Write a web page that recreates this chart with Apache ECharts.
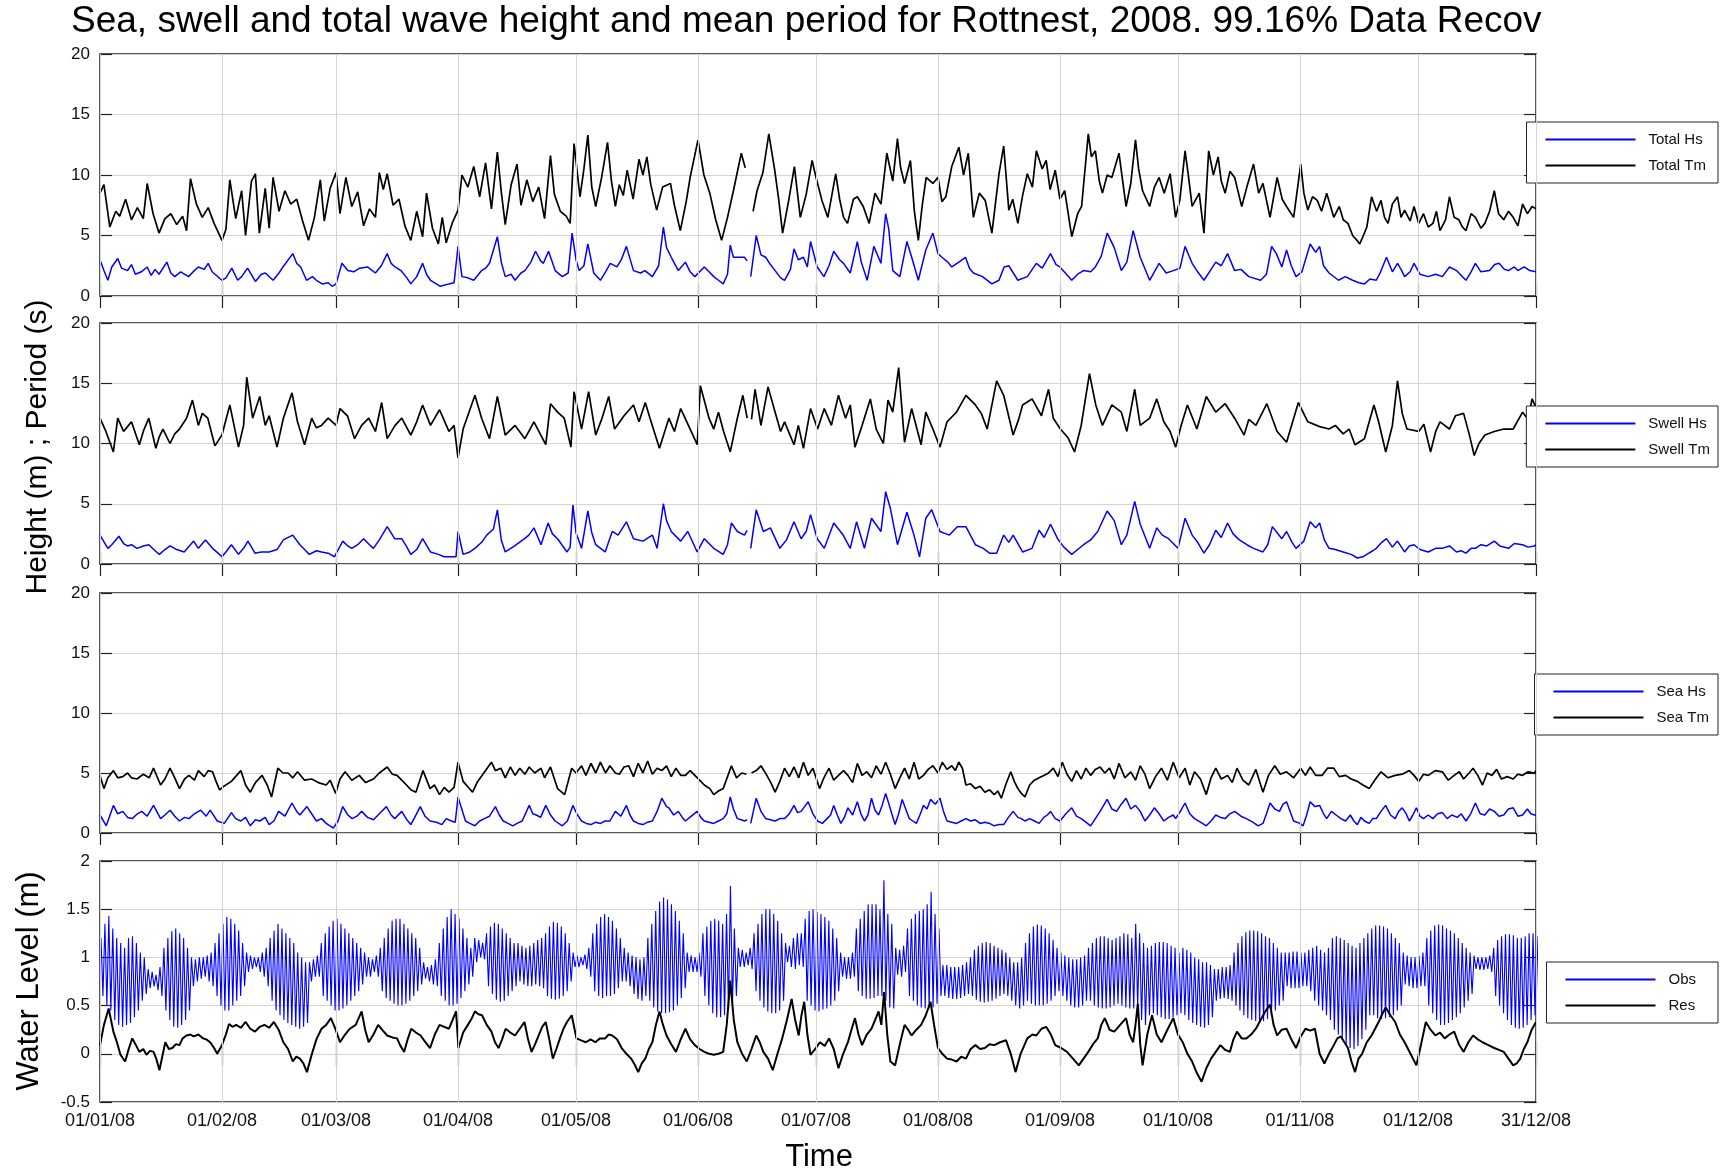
<!DOCTYPE html>
<html>
<head>
<meta charset="utf-8">
<script src="https://cdn.jsdelivr.net/npm/echarts@6/dist/echarts.min.js"></script>
<style>
  html, body { margin: 0; padding: 0; background: #fff; }
  #myChart { width: 1724px; height: 1172px; }
</style>
</head>
<body>
<div id="myChart"></div>
<script>
// tick positions on the time axis and their labels
const tickDates = ['2008-01-01', '2008-02-01', '2008-03-01', '2008-04-01', '2008-05-01', '2008-06-01',
  '2008-07-01', '2008-08-01', '2008-09-01', '2008-10-01', '2008-11-01', '2008-12-01', '2008-12-31']
const tickLabels = ['01/01/08', '01/02/08', '01/03/08', '01/04/08', '01/05/08', '01/06/08',
  '01/07/08', '01/08/08', '01/09/08', '01/10/08', '01/11/08', '01/12/08', '31/12/08']

// [day of year, value]
const totalHs = [[0,3.0],[1,2.1],[2,1.3],[3,2.4],[4.5,3.1],[5.5,2.3],[7,2.1],[8,2.6],[9,1.8],[10.5,2.0],[12,2.4],[13,1.7],[14,2.2],[15,1.8],[17,2.8],[18,1.9],[19,1.6],[20.5,2.0],[22.5,1.6],[24,2.1],[25,2.4],[26.5,2.2],[27.5,2.7],[28.5,2.0],[29,1.9],[31,1.3],[32,1.5],[33.5,2.3],[35,1.3],[36,1.6],[37.5,2.3],[39.5,1.2],[41,1.8],[42,1.9],[44,1.3],[45.5,1.9],[46.5,2.4],[49,3.5],[50,2.7],[51,2.4],[52.5,1.3],[54,1.6],[55,1.3],[56.5,1.0],[58,1.1],[59,0.8],[60,1.0],[61.5,2.7],[63,2.1],[64.5,2.0],[66,2.3],[68,2.4],[70,1.9],[71.5,2.5],[73,3.5],[74,2.7],[75,2.4],[76.5,2.1],[78,1.5],[79,1.0],[80.5,1.6],[82,2.7],[83,1.8],[84,1.3],[85.5,1.0],[86.5,0.8],[88.7,1.0],[90,1.1],[91,4.1],[92,1.6],[93.5,1.5],[95,1.3],[97,2.1],[98,2.3],[99,2.7],[101,4.9],[102,2.8],[103,1.6],[104.5,1.8],[105.5,1.3],[107,1.9],[108,2.1],[109.5,2.8],[110.7,3.7],[112,2.9],[112.7,2.7],[114,3.7],[115.7,2.1],[117.5,1.6],[119,1.9],[120,5.2],[121,3.0],[121.8,2.1],[123,2.5],[124,4.3],[125.5,1.9],[127.2,1.3],[128.5,2.0],[129.7,2.7],[131.4,2.4],[132.5,3.0],[133.8,4.1],[135.6,2.1],[137.4,1.9],[138.5,2.1],[140.4,1.6],[142,2.5],[143.2,5.7],[144,4.0],[145.2,3.2],[147,2.1],[148.8,2.8],[150,2.0],[151.2,1.6],[153.6,2.4],[154.8,2.0],[156,1.6],[157.2,1.3],[158.4,1.0],[159.5,1.8],[160.2,4.2],[161,3.2],[162,3.2],[163.8,3.2],[164.5,2.9],[165,null],[165.4,1.6],[166.8,5.0],[168,3.4],[169.2,3.2],[170.4,2.6],[171.6,2.1],[173,1.5],[174,1.3],[175.5,2.2],[176.4,3.9],[177.5,3.0],[178.8,3.2],[179.8,2.4],[180.6,4.5],[182.3,2.4],[184,1.6],[185.3,2.5],[186.5,3.7],[188,3.0],[189,2.7],[190.7,1.9],[192.5,4.5],[193.5,2.8],[195,1.3],[196.7,4.1],[198.5,2.7],[199.7,6.8],[200.5,5.5],[201.5,2.1],[203.3,1.6],[205.1,4.5],[206.5,3.0],[208,1.3],[209.9,3.8],[211.7,5.2],[213,3.5],[214,3.2],[215.5,2.8],[216.5,2.4],[218.3,2.8],[220,3.2],[221,2.3],[222,1.9],[224.3,1.6],[226.7,1.0],[228.5,1.3],[229.8,2.4],[231,2.5],[233.3,1.3],[235.7,1.6],[238,2.7],[239.5,2.3],[241.6,3.5],[243,2.6],[244,2.4],[247,1.3],[248.5,1.8],[250,2.1],[251.8,2.0],[253,2.4],[254.5,3.3],[256,5.2],[257.8,4.0],[259.6,2.1],[261,2.8],[262.6,5.4],[263.5,4.3],[264.4,3.2],[266.8,1.3],[268,2.0],[269.2,2.7],[271,1.9],[272.8,2.1],[274.5,2.3],[275.8,4.1],[277.6,2.7],[279,2.0],[280.6,1.3],[282,2.0],[283.6,2.8],[285,2.5],[286.6,3.5],[288.4,2.1],[290,2.2],[292,1.6],[295,1.3],[296.5,1.8],[297.8,4.1],[299,3.5],[300.4,2.4],[301.6,3.8],[302.8,2.5],[304,1.6],[305.5,2.0],[307.6,4.3],[309,3.6],[310,4.1],[311,2.5],[312.4,1.9],[314.8,1.3],[316.5,1.6],[318.4,1.3],[320,1.1],[321.4,1.0],[322.8,1.4],[324.4,1.3],[325.5,2.0],[327,3.2],[328.5,2.0],[329.8,2.7],[330.7,2.2],[331.6,1.6],[333,2.0],[334,2.7],[335.5,1.8],[337.6,1.6],[339.5,1.8],[341.2,1.6],[343,2.4],[344.8,2.1],[346,1.7],[347.2,1.3],[348.5,2.0],[349.6,2.7],[351,2.0],[353.2,2.1],[354.5,2.6],[355.6,2.7],[357,2.2],[358,2.1],[359.5,2.4],[360.4,2.1],[362,2.4],[363.4,2.1],[365,2.0]]

const totalTm = [[0,8.5],[1,9.2],[2.5,5.7],[4,7.0],[5,6.6],[6.5,8.0],[8,6.3],[9.5,7.3],[11,6.4],[12,9.3],[13.5,6.8],[15,5.2],[16.5,6.4],[18,6.8],[19.5,5.9],[21,6.6],[22,5.4],[23,9.7],[24.5,7.6],[26,6.5],[27.5,7.3],[29,6.0],[31,4.6],[32,5.5],[33,9.6],[34.5,6.4],[36,8.7],[37,5.0],[38.5,9.5],[39.5,10.1],[40.5,5.2],[42,8.9],[43,5.6],[44,9.8],[45.5,7.0],[47,8.7],[48.5,7.6],[50,8.0],[51.5,6.2],[53,4.6],[54.5,6.5],[56,9.6],[57,6.2],[58.5,8.9],[60,10.2],[61,6.8],[62.5,9.8],[64,7.4],[65.5,8.6],[67,5.8],[68.5,7.2],[70,6.5],[71,10.2],[72,8.8],[73,10.1],[74.5,7.5],[76,8.0],[77.5,5.8],[79,4.6],[80.5,7.0],[82,4.9],[83,8.5],[84.5,5.6],[86,4.3],[87,6.5],[88,4.4],[89.5,6.0],[91,7.1],[92,10.0],[93.5,9.0],[95,10.7],[96.5,8.2],[98,11.0],[99.5,7.2],[101,11.9],[102,8.6],[103,5.9],[104.5,9.2],[106,10.9],[107,7.5],[108.5,9.6],[110,7.8],[111.5,9.0],[113,6.4],[114.5,11.6],[115.5,8.4],[117,7.0],[118.5,6.6],[119.5,6.0],[120.5,12.6],[122,8.2],[123,10.5],[124,13.3],[125,9.0],[126,7.4],[127.5,9.8],[129,12.7],[130,9.5],[131,7.4],[132,9.2],[133,8.3],[134,10.4],[135.5,8.0],[137,11.3],[138,10.0],[139,11.5],[140,9.2],[141.5,7.1],[143,9.0],[145,9.3],[146,7.5],[147.5,5.4],[149,7.8],[150,9.8],[152,12.9],[153.5,10.0],[155,8.5],[156.5,6.3],[158,4.6],[159.5,6.5],[161,8.7],[163,11.8],[164,10.6],[165,null],[166,7.0],[167,8.7],[168.5,10.2],[170,13.4],[171.5,10.4],[172.5,8.0],[173.5,5.2],[175,7.8],[176.5,10.7],[178,6.5],[179.5,8.4],[181,11.2],[182,9.8],[183.5,7.9],[185,6.5],[187,10.1],[188,8.0],[189,6.5],[190,6.0],[191.5,8.0],[192.5,8.2],[194,7.4],[195.5,6.0],[197,8.5],[198.5,7.6],[200,11.8],[201.5,9.5],[202.7,13.0],[203.5,10.6],[204.5,9.3],[206,11.2],[207,7.0],[208,4.6],[209,7.5],[210,9.8],[211.7,9.3],[213,9.8],[214,7.8],[215,8.2],[216.5,10.7],[218.3,12.3],[219.5,10.0],[220.7,11.8],[222,6.5],[223.5,8.5],[225,7.9],[226.7,5.2],[228.5,10.1],[229.7,12.4],[231,7.1],[232,8.0],[233.3,6.0],[234.5,8.3],[235.7,10.1],[237,9.0],[238,12.0],[239.5,10.5],[240.5,11.2],[241.5,8.8],[242.8,10.4],[244,8.0],[245.2,8.7],[247,4.9],[248.5,6.8],[249.5,7.4],[251.2,13.4],[252,11.5],[253,12.0],[254,9.5],[254.8,8.5],[256,10.0],[257.2,9.8],[259,11.8],[260.8,7.4],[262,9.3],[263.2,12.9],[264,10.5],[265,8.7],[266.8,7.4],[268,9.0],[269.2,9.8],[270.5,8.5],[272,10.1],[273.4,6.5],[274.5,8.0],[275.8,12.0],[276.7,9.8],[277.6,7.4],[279.4,8.5],[280.6,5.2],[281.8,12.0],[283,10.0],[284.2,11.5],[285,9.5],[286,8.5],[287.2,10.3],[288.4,9.8],[290.2,7.4],[291.5,9.0],[293.2,10.9],[294.5,8.5],[295.6,9.3],[297.4,6.5],[299.2,9.8],[300.5,8.0],[301.6,7.4],[303.4,6.5],[305.2,10.9],[306,8.5],[307,7.1],[308.2,8.2],[309.4,7.9],[310.5,7.0],[311.8,8.5],[313.6,6.5],[315,7.4],[316,6.3],[317.2,6.0],[318.4,5.0],[319.5,4.6],[320.2,4.3],[321,4.9],[322,5.7],[323.2,8.2],[324.5,7.0],[325.6,7.9],[326.5,6.5],[327.4,6.0],[328.5,7.6],[329.8,8.2],[330.7,6.5],[331.6,7.1],[333,6.2],[334,7.4],[335.2,6.0],[336.4,6.8],[337.6,5.7],[338.8,6.0],[339.7,7.0],[340.6,5.4],[342,6.3],[343,8.2],[344.2,6.5],[345.4,6.3],[346.3,5.7],[347.2,5.4],[348.5,6.8],[349.6,6.5],[351,5.6],[352,6.0],[353.2,7.0],[354.4,8.7],[355.5,6.8],[356.8,6.3],[358,7.0],[359.2,6.5],[360.4,5.8],[361.6,7.6],[362.8,6.8],[364,7.4],[365,7.2]]

const swellHs = [[0,2.4],[2,1.3],[3,1.6],[4.8,2.3],[6,1.7],[7,1.5],[8,1.6],[9.4,1.3],[11,1.5],[12.4,1.6],[14,1.1],[15.1,0.8],[16.5,1.2],[17.8,1.5],[19.5,1.2],[21.4,1.0],[23.8,1.9],[25,1.3],[26.8,2.0],[28.6,1.3],[30,0.9],[31,0.6],[32,1.0],[33.4,1.6],[35.2,0.8],[36.5,1.3],[37.6,1.9],[39.4,0.9],[41,1.0],[43,1.0],[45,1.2],[46.6,2.0],[49,2.4],[50.8,1.6],[52,1.2],[53.2,0.8],[55,1.1],[56.3,1.0],[58,0.9],[59.6,0.6],[61.7,1.9],[63,1.5],[64,1.3],[65.5,1.6],[67,2.1],[68.5,1.6],[69.5,1.3],[71,2.0],[73,3.1],[74.9,2.1],[76.7,2.1],[78,1.4],[79,0.8],[80.5,1.2],[82,2.1],[84,1.0],[86,0.8],[87.5,0.6],[89,0.6],[90.5,0.6],[91,2.7],[92.3,0.8],[94,1.0],[95.3,1.3],[97,1.8],[98.3,2.4],[100,2.9],[101,4.5],[102,2.0],[103,1.0],[105.4,1.5],[107.9,2.1],[109,2.4],[110.3,3.0],[112.1,1.6],[113.9,3.4],[115,2.5],[116.3,2.1],[118.7,1.0],[119.5,1.4],[120.2,4.9],[121,2.6],[122.4,1.3],[124,4.4],[125,2.6],[126,1.6],[128.4,1.0],[130.2,2.7],[131.7,2.4],[133.8,3.5],[135.6,2.1],[138,1.9],[140.4,2.4],[141.6,1.3],[143.2,5.0],[144,3.6],[145.2,2.7],[147.6,1.9],[149.4,2.7],[151.8,1.0],[153.6,2.1],[156,1.3],[158.4,0.8],[159.5,1.6],[160.5,3.4],[162,2.7],[163.8,2.4],[164.5,2.8],[165,null],[165.4,1.3],[166.8,4.5],[168.6,2.7],[170.4,3.0],[172.8,1.3],[174.5,2.0],[176.4,3.5],[178.2,2.1],[179.5,2.7],[180.6,4.1],[182.3,2.1],[184.1,1.3],[186.5,3.4],[188.9,2.4],[190.7,1.3],[192.3,3.5],[194.3,1.3],[196.1,3.8],[198.5,2.7],[199.7,6.0],[200.9,4.6],[202.7,1.6],[205.1,4.3],[206.9,2.4],[208.3,0.6],[209.9,3.8],[211.4,4.5],[213.5,2.7],[215.9,2.4],[217.9,3.1],[220.1,3.1],[222.5,1.6],[224.5,1.3],[226.1,0.9],[227.9,0.9],[229.7,2.4],[231,1.8],[232.1,2.4],[234.5,1.0],[236.9,1.3],[238.7,2.8],[240,2.2],[241.6,3.3],[243.4,2.1],[245,1.4],[247,0.8],[248.5,1.2],[250,1.6],[251.8,2.0],[253.6,2.7],[256,4.4],[257.8,3.6],[259.6,1.6],[261,2.4],[263,5.2],[264.4,3.3],[266.8,1.3],[268.6,3.0],[270,2.4],[271.6,2.1],[274,1.3],[275.8,3.8],[277.6,2.4],[279,1.8],[280.6,0.9],[282,1.6],[283.6,2.8],[285,2.2],[286.6,3.4],[288,2.5],[289.6,2.0],[291.5,1.6],[293.2,1.3],[295.6,1.0],[296.8,1.6],[298,3.1],[299.2,2.6],[300.4,2.1],[301.6,2.7],[303,1.8],[304,1.3],[306,1.9],[307.6,3.5],[309,3.0],[310,3.4],[311.2,2.0],[312.4,1.3],[314,1.2],[316,1.0],[318,0.8],[319.6,0.5],[321,0.6],[322,0.8],[323.5,1.1],[324.4,1.3],[325.8,1.8],[327,2.1],[328.5,1.4],[329.8,1.9],[331.6,1.0],[332.8,1.5],[334,1.6],[335.5,1.2],[337.6,1.0],[339.5,1.3],[341.2,1.3],[343,1.5],[344.8,1.0],[346,1.1],[347.2,0.9],[348.5,1.3],[349.6,1.3],[351,1.6],[352.5,1.5],[354.4,1.9],[355.8,1.5],[358,1.3],[359.5,1.7],[361.6,1.6],[363,1.4],[364.6,1.5],[365,1.6]]

const swellTm = [[0,12.1],[1.5,11.0],[3.4,9.3],[4.5,12.1],[6,11.0],[7,11.4],[8,11.8],[10,9.9],[11,11.0],[12.4,12.1],[14.2,9.6],[15,10.5],[16,11.2],[17.8,10.0],[19,10.8],[20.2,11.2],[22,12.1],[23.5,13.6],[25,11.5],[26,12.5],[27.4,12.1],[29.2,9.8],[31,10.7],[33,13.2],[35.2,9.7],[36.5,11.5],[37.3,15.5],[38.8,12.1],[40.6,13.9],[42,11.5],[43,12.3],[45,9.7],[46.6,12.1],[48.8,14.2],[50.2,11.8],[52,9.9],[53.8,12.1],[55,11.3],[56.3,11.5],[58,12.1],[60,11.5],[61,12.9],[62.9,12.3],[64.7,10.4],[66.5,11.5],[68.3,12.1],[70,11.0],[71.6,13.4],[73,10.4],[75,11.5],[76.7,12.1],[79,10.7],[80.5,11.8],[82,13.2],[84,11.5],[86.3,12.8],[88.7,11.0],[90,11.5],[91,8.8],[92.3,11.2],[95.3,14.0],[97,12.1],[99,10.4],[101,13.9],[103,10.7],[105.5,11.5],[108,10.4],[110.3,11.8],[113.3,9.9],[114.5,13.3],[116.3,12.6],[118,12.1],[119.7,9.7],[120.5,14.3],[122.4,11.2],[124.2,14.3],[126,10.7],[127.5,12.0],[129.3,13.9],[130.8,11.2],[133.2,12.3],[135.6,13.2],[137,11.8],[138.6,13.4],[139.8,12.1],[142.2,9.6],[144.6,12.1],[146,11.0],[147.6,12.9],[150,11.2],[151.8,9.9],[152.6,14.8],[154.8,12.1],[156,11.2],[157.2,12.6],[158.5,11.0],[160.2,9.3],[162,12.1],[163.4,14.0],[164.5,12.1],[165,null],[165.6,12.0],[166.5,14.5],[168,11.5],[169.8,14.7],[171.6,12.6],[173,11.0],[174,11.8],[176.4,9.9],[177.5,11.5],[178.8,9.6],[180.6,12.9],[182.4,11.2],[184.1,12.9],[185.9,11.5],[187.7,14.0],[189.5,12.1],[190.7,13.2],[191.9,9.7],[193.7,11.5],[195.8,13.7],[197.3,11.2],[199.1,10.0],[200.3,13.6],[201.5,12.6],[203,16.3],[204.5,10.1],[206.3,12.9],[208.7,9.9],[209.9,12.6],[211.7,11.2],[213.5,9.7],[215.3,11.8],[216.5,12.2],[217.7,12.6],[220.1,14.0],[222.5,13.2],[224,12.5],[225.5,11.2],[227.9,15.2],[229.7,14.0],[232.1,10.7],[233.5,12.0],[234.5,13.2],[236.9,13.7],[239.3,12.3],[241.1,14.5],[242.3,12.1],[244.1,11.2],[246,10.5],[247.7,9.3],[249.4,11.5],[251.5,15.8],[253.1,13.2],[254.8,11.5],[257.2,13.2],[259.6,12.6],[261,11.0],[263,14.5],[264.4,11.5],[266.8,12.1],[268.6,13.7],[270.4,11.8],[272,11.0],[273.4,9.7],[274.8,11.5],[276.4,13.2],[278.8,11.2],[281.2,13.9],[283.6,12.6],[286,13.3],[288.4,12.1],[290.8,10.7],[292,12.0],[293.8,11.5],[296.6,13.3],[299.2,11.0],[301.6,10.1],[304.6,13.4],[307,11.8],[310,11.4],[312.4,11.2],[314,11.5],[316,10.8],[317.5,11.2],[319,9.9],[321.4,10.4],[323.8,13.2],[325,11.8],[326.8,9.3],[328.5,11.5],[329.8,15.2],[331,12.5],[332.2,11.2],[335.2,11.0],[336.5,11.6],[338.2,9.3],[339.5,11.0],[340.6,11.8],[343,11.2],[344.5,12.3],[346.6,12.5],[348,10.8],[349.3,9.0],[350.5,10.0],[352,10.7],[354.4,11.0],[356.8,11.2],[359.2,11.2],[361.6,12.6],[363,12.0],[364,13.7],[365,13.0]]

const seaHs = [[0,1.5],[1.6,0.6],[3.4,2.3],[4.5,1.6],[5.8,1.8],[7,1.3],[8.2,1.2],[9.5,1.6],[10.6,1.8],[12,1.4],[13.6,2.3],[15.4,1.2],[16.5,1.5],[17.8,1.9],[19,1.4],[20.2,1.0],[21.5,1.3],[22.6,1.2],[24,1.6],[25.6,1.9],[27,1.4],[28,1.9],[29.8,1.0],[31.6,0.8],[33.4,1.7],[34.5,1.2],[35.8,1.0],[37,1.3],[38.2,0.6],[39.5,1.1],[40.6,1.0],[42,1.3],[43,0.7],[44.2,1.0],[45.4,1.8],[47,1.4],[48.8,2.5],[50,1.8],[50.8,1.5],[52.6,2.2],[54,1.5],[55,1.0],[56.3,1.2],[57.5,0.8],[59.3,0.4],[60.5,1.0],[61.7,2.2],[63,1.5],[64.1,1.2],[65.3,1.4],[66.5,1.8],[68,1.3],[69.5,1.1],[71,1.6],[72.8,2.2],[74,1.5],[74.9,1.2],[76.7,1.8],[78,1.1],[79,0.7],[80,1.3],[81.4,2.2],[82.6,1.4],[83.9,1.0],[85.5,0.9],[86.9,0.7],[88,1.2],[89.3,1.0],[90.3,0.9],[91,3.0],[92.9,1.0],[94,0.8],[95.3,0.6],[96.5,1.0],[97.7,1.2],[99,1.4],[100.5,2.2],[101.5,1.5],[102.5,1.0],[103.7,0.8],[104.9,0.6],[106,0.8],[107.3,1.0],[109.1,2.3],[110,1.6],[110.9,1.5],[112,1.3],[113.3,2.3],[114.5,1.5],[115.7,1.0],[117.5,0.6],[118.8,1.0],[120.2,2.3],[121.2,1.6],[122.4,1.0],[123.6,0.8],[124.8,0.7],[126,0.9],[127.2,0.8],[128.4,1.0],[129.6,1.0],[131,1.8],[132.4,1.4],[133.8,2.3],[134.7,1.5],[135.6,1.0],[136.8,0.8],[138,0.7],[139.2,0.9],[140.4,1.0],[141.6,1.8],[142.8,2.9],[144,2.2],[144.6,2.1],[145.8,1.5],[147,1.8],[148,1.3],[148.8,1.0],[150.3,1.4],[151.8,1.8],[152.7,1.3],[153.6,1.0],[154.8,0.9],[156,0.8],[157.2,1.0],[158.4,1.2],[159.3,1.6],[160.2,3.0],[161,2.0],[162,1.2],[163,1.1],[163.8,1.0],[164.5,1.1],[165,null],[165.4,0.8],[166.8,2.9],[168,1.8],[169.2,1.2],[170.4,1.1],[171.6,1.0],[172.8,1.2],[174,1.2],[175.2,1.6],[176.4,2.3],[177.3,1.7],[178.2,1.8],[179.1,2.2],[180,2.6],[181.2,1.6],[182.4,1.0],[183.6,0.8],[184.8,1.2],[185.7,1.5],[186.5,2.3],[187.4,1.5],[188.3,0.8],[189.2,1.3],[190.1,2.1],[191.3,1.5],[192.5,2.6],[193.4,1.6],[194.3,1.0],[195.2,1.5],[196.1,2.9],[197,1.9],[197.9,1.5],[198.8,2.3],[199.7,3.3],[200.9,2.0],[202.1,0.7],[203,1.6],[203.9,2.8],[204.8,2.0],[205.7,1.2],[206.6,1.0],[207.5,0.8],[208.4,1.5],[209.3,2.3],[210.2,2.0],[211.1,2.8],[212.3,2.4],[213.5,2.9],[214.4,1.8],[215.3,1.0],[216.5,0.9],[217.7,0.8],[218.9,1.0],[220.1,1.2],[221.3,1.0],[222.5,1.1],[223.7,0.8],[224.9,0.9],[226.1,0.8],[227.3,0.6],[228.5,0.7],[229.7,0.7],[230.9,1.3],[232.1,1.8],[233.3,1.3],[234.2,1.2],[235.1,1.0],[236.3,1.2],[237.5,1.0],[238.7,0.8],[239.9,1.3],[240.8,1.5],[241.6,1.8],[242.8,1.2],[244,1.0],[245.5,1.6],[247,2.1],[248.2,1.4],[249.4,1.2],[250.6,0.9],[251.8,0.6],[253,1.2],[254.2,1.8],[255.1,2.3],[256,2.8],[257.2,2.0],[258.4,1.8],[259.6,2.4],[260.8,2.9],[262,2.0],[263.2,2.3],[264.4,1.8],[265.6,1.0],[266.8,1.5],[268,2.1],[269.2,1.6],[270.4,1.0],[271.6,1.3],[272.8,1.5],[273.4,1.2],[274.6,1.8],[275.8,2.5],[277,1.6],[278.2,1.2],[279.7,0.9],[281.2,0.6],[282.4,1.0],[283.6,1.5],[284.8,1.3],[286,1.2],[287.2,1.6],[288.4,1.8],[290,1.4],[291.4,1.2],[293,0.9],[294.4,0.6],[295.6,0.8],[296.5,1.6],[297.4,2.5],[298.6,2.0],[299.8,1.8],[300.7,2.4],[301.6,2.6],[302.5,1.8],[303.4,1.0],[305,0.8],[305.8,0.6],[306.7,1.5],[307.6,2.6],[308.8,2.2],[310,2.3],[311,1.6],[311.8,1.2],[313,1.8],[314.2,1.5],[315.4,1.2],[316.6,1.0],[317.8,1.5],[318.7,1.0],[319.6,0.7],[320.5,1.3],[321.4,1.0],[322.6,0.8],[323.5,1.2],[324.4,1.2],[325.6,1.8],[326.8,2.3],[328,1.5],[329.2,1.2],[330.1,1.8],[331,2.1],[332,1.6],[332.8,1.0],[333.7,1.5],[334.6,2.1],[335.5,1.4],[336.4,1.2],[337.6,1.5],[338.8,1.2],[340,1.6],[341.2,1.7],[342.4,1.2],[343.6,1.5],[345,1.3],[346,1.6],[347.2,1.0],[348.4,1.6],[349.6,2.5],[350.8,1.6],[352,1.5],[353.2,2.0],[354.4,1.8],[355.6,1.4],[356.8,1.5],[358,2.0],[359.2,2.1],[360.4,1.4],[361.6,1.5],[362.8,2.0],[363.7,1.6],[364.6,1.5],[365,1.5]]

const seaTm = [[0,4.8],[1,3.7],[2,4.6],[3.4,5.2],[4.5,4.6],[5.8,4.7],[7,5.0],[8,4.6],[9.4,4.5],[11,4.9],[12.5,4.6],[13.6,5.4],[15.4,4.0],[16.5,4.5],[17.8,5.4],[19,4.6],[20.2,3.7],[21.5,4.5],[22.6,4.8],[24,4.4],[25,5.2],[26.5,4.7],[27.5,5.2],[28.6,5.1],[29.5,4.3],[30.4,3.6],[31.5,3.9],[33.4,4.3],[35.8,5.2],[37,4.0],[38.2,3.4],[39.5,4.2],[41.2,4.8],[42.5,4.0],[43.6,3.0],[45.2,5.4],[46.5,5.0],[47.8,5.0],[49,4.6],[50.2,5.1],[52,4.4],[53.8,4.5],[55.5,4.2],[57.5,4.0],[58.5,4.4],[59.9,3.3],[61,4.5],[62.3,5.1],[64,4.4],[65.9,4.8],[67.5,4.2],[69.5,4.5],[71,5.0],[73,5.5],[74.3,4.9],[75.5,4.8],[77.9,4.0],[79,3.6],[80.3,3.4],[82.1,5.2],[83.9,3.7],[85,4.0],[86.3,3.2],[87.5,3.8],[88.7,3.4],[90,3.8],[91,5.9],[92.3,4.3],[94.7,3.4],[96,4.3],[97.1,4.8],[99.5,5.9],[100.5,5.2],[101.9,5.4],[103,4.6],[104.3,5.5],[105.5,4.8],[106.7,5.4],[108,4.9],[109.1,5.5],[110.5,5.0],[112.1,5.4],[113,4.6],[114.5,5.5],[116.3,3.7],[118.1,3.2],[119.9,5.4],[121,5.0],[122.4,5.6],[123.5,4.8],[124.8,5.8],[126,5.0],[127.2,5.9],[128.5,5.0],[129.6,5.6],[131,5.0],[132,4.9],[133.2,5.5],[134.4,5.6],[135.6,4.7],[136.8,5.8],[138,5.0],[139.2,6.0],[140.4,4.9],[141.6,5.4],[142.8,5.2],[144,5.6],[145.2,4.7],[146.4,5.4],[147.6,4.8],[148.8,4.8],[150,5.2],[151.2,4.8],[152.4,4.4],[153.6,4.0],[155,3.7],[156,3.2],[157.2,3.5],[158.4,3.7],[160.5,5.6],[161.8,4.6],[163.1,5.0],[164.3,4.9],[165,null],[165.6,5.0],[166.8,5.2],[168,5.6],[169.5,4.8],[170.5,4.2],[171.6,3.4],[172.8,4.3],[174,5.4],[175.2,4.7],[176.4,5.5],[177.6,4.6],[178.8,5.9],[180,4.8],[181.2,5.4],[182.9,3.7],[184,4.6],[185.3,5.4],[186.5,4.4],[187.7,4.8],[189,5.2],[190.1,4.8],[191.3,4.2],[192.5,5.8],[193.7,4.8],[194.9,5.1],[196.1,4.6],[197.3,5.6],[198.5,4.9],[199.7,5.9],[200.9,4.9],[202.1,3.7],[203.3,4.6],[204.5,5.4],[205.7,4.5],[206.9,5.9],[208.1,4.5],[209.3,4.8],[210.5,5.3],[211.7,5.6],[213,5.0],[214.1,5.9],[215.3,5.3],[216.5,5.6],[217.4,5.2],[218.3,5.9],[219.2,5.4],[220.1,4.0],[221.3,4.1],[222.5,3.7],[223.7,3.9],[224.9,3.4],[226.1,3.6],[227.3,3.2],[228.2,3.5],[229.1,2.9],[230.3,4.1],[231.5,5.1],[232.4,4.3],[233.3,3.7],[234.2,3.3],[235.1,3.0],[236.3,4.0],[237.5,4.4],[238.7,4.6],[239.9,4.8],[241.1,5.0],[242.3,5.4],[243.5,4.7],[244.6,5.9],[245.8,4.9],[247,4.3],[248.2,5.2],[249.4,4.5],[250.6,5.4],[251.8,4.8],[253,5.3],[254.2,5.5],[255.4,5.0],[256.6,5.4],[257.8,4.5],[259,5.8],[260.5,4.6],[262,5.1],[263.2,4.4],[264.4,5.6],[265.6,4.9],[266.8,3.7],[268.3,4.7],[269.8,5.4],[271.3,4.4],[272.8,5.9],[274.3,4.6],[275.8,5.4],[277,4.0],[278.2,5.1],[279.7,4.5],[281.2,3.2],[282.4,4.6],[283.6,5.4],[285,4.5],[286.6,4.8],[287.8,4.2],[289,5.4],[290.5,4.4],[292,4.0],[293.8,5.3],[295.6,3.4],[297,4.8],[298.6,5.6],[300,4.9],[301.6,5.1],[303.4,4.6],[305.2,5.4],[306.4,4.8],[307.6,5.5],[309,4.8],[310.6,4.8],[312,5.4],[313.6,5.4],[315,4.7],[316.6,4.8],[318,4.5],[319.6,4.3],[321,4.0],[322.6,3.7],[324,4.4],[325.6,5.1],[327.4,4.6],[329.2,4.8],[331,4.9],[332.8,5.2],[334,4.8],[335.2,4.3],[336.4,4.9],[337.6,4.8],[339.4,5.2],[341.2,5.1],[342.7,4.4],[344.2,4.8],[345.5,5.1],[346.6,4.5],[348,5.0],[349,5.4],[350.2,4.8],[351.4,4.0],[352.6,5.0],[353.8,4.8],[355,5.3],[356.2,4.5],[357.7,4.7],[359.2,4.5],[360.4,4.9],[361.6,4.8],[363,5.1],[364.6,5.0],[365,5.2]]

// observed water level: daily high and low (days 0..365)
const obsHigh = [
  1.2,1.35,1.43,1.3,1.2,1.15,1.1, 1.2,1.22,1.15,1.05,1.0, 0.88,0.85,0.82,0.9,
  1.1,1.2,1.27,1.3,1.25,1.2,1.1, 1.0,0.98,1.0,1.0,1.02,1.05, 1.15,1.25,1.35,1.42,1.4,1.35,1.28,1.15,
  1.05,1.02,1.0,1.0,1.05,1.1, 1.2,1.28,1.35,1.3,1.25,1.2,1.15,1.05,1.0,0.95, 0.95,0.98,1.02,
  1.15,1.25,1.32,1.38,1.4,1.35,1.3,1.25,1.2,1.15,1.1,1.05, 1.0,0.98,1.02,
  1.1,1.2,1.3,1.38,1.4,1.4,1.35,1.3,1.25,1.2,1.1, 0.95,0.9,0.92,0.98,
  1.15,1.3,1.42,1.5,1.45,1.4,1.3,1.2,1.1, 1.2,1.18,1.15, 1.25,1.32,1.36,1.35,1.3,1.25,1.2,1.15,
  1.15,1.12,1.1,1.12,1.15,1.18,1.2, 1.25,1.32,1.37,1.36,1.32,1.25,1.15, 1.05,1.02,1.0,1.03,1.1,
  1.25,1.35,1.42,1.45,1.42,1.38,1.3,1.2, 1.1,1.05,1.02,1.0,0.98,1.0,
  1.2,1.35,1.48,1.58,1.62,1.6,1.55,1.48,1.38,1.25, 1.05,1.02,1.0,1.05,
  1.25,1.32,1.38,1.4,1.38,1.35,1.45,1.74,1.3, 1.1,1.08,1.05,1.1,
  1.25,1.35,1.45,1.5,1.5,1.45,1.38,1.25, 1.15,1.12,1.2,1.25,1.25,
  1.4,1.48,1.5,1.47,1.45,1.42,1.38,1.3,1.2, 1.05,1.0,1.0,1.05,
  1.3,1.4,1.48,1.55,1.55,1.55,1.5,1.8,1.45,1.35, 1.1,1.08,1.12,
  1.3,1.4,1.45,1.48,1.5,1.55,1.68,1.45,1.3, 0.92,0.92,0.9,0.9,0.9,0.92,0.95,
  1.0,1.08,1.12,1.15,1.16,1.15,1.12,1.1,1.08,1.05,1.0, 0.95,0.95,1.0,
  1.15,1.25,1.32,1.34,1.33,1.3,1.25,1.18,1.1, 1.05,1.02,1.0,0.98,0.98,1.0,1.02,
  1.1,1.15,1.2,1.22,1.22,1.2,1.18,1.2,1.22,1.25,1.24,1.2,1.35,
  1.25,1.15,1.1,1.12,1.15,1.16,1.16,1.15,1.12,1.1,1.05, 1.1,1.08,1.05,1.0,0.98,0.95,0.95,0.92,
  0.88,0.88,0.9,0.9,0.92, 1.05,1.15,1.22,1.26,1.28,1.28,1.27,1.25,1.22,1.2,1.15,1.1,1.05,
  1.05,1.05,1.06,1.06,1.05,1.05,1.08, 1.1,1.12,1.08,1.05,1.1,
  1.2,1.22,1.2,1.18,1.15,1.12,1.1,1.15,1.2, 1.25,1.3,1.33,1.33,1.32,1.3,1.25,1.2,1.15,
  1.05,1.02,1.0,1.0,1.02,1.05, 1.2,1.28,1.33,1.34,1.33,1.3,1.28,1.25,1.2,1.15,1.1,1.05,
  1.02,1.0,1.0,1.0,1.02, 1.1,1.18,1.22,1.24,1.24,1.23,1.2,1.2,1.22,1.25,1.25,1.22]
const obsLow = [
  0.6,0.5,0.45,0.35,0.3,0.28,0.3, 0.32,0.38,0.45,0.55,0.62, 0.68,0.7,0.66,0.6,
  0.45,0.35,0.28,0.27,0.3,0.35,0.45, 0.7,0.75,0.78,0.8,0.75,0.7, 0.6,0.5,0.45,0.45,0.5,0.55,0.6,0.7,
  0.85,0.88,0.9,0.85,0.8,0.7, 0.55,0.45,0.4,0.35,0.32,0.3,0.28,0.26,0.28,0.32, 0.75,0.8,0.8,
  0.6,0.55,0.5,0.45,0.45,0.47,0.5,0.55,0.6,0.65,0.72,0.8, 0.8,0.85,0.8,
  0.65,0.58,0.55,0.52,0.5,0.5,0.52,0.55,0.6,0.65,0.72, 0.78,0.75,0.72,0.7,
  0.6,0.55,0.5,0.5,0.52,0.58,0.65,0.72,0.8, 0.95,1.0,0.98, 0.7,0.62,0.56,0.54,0.55,0.6,0.65,0.7,
  0.75,0.72,0.7,0.7,0.72,0.7,0.68, 0.6,0.57,0.56,0.57,0.6,0.65,0.75, 0.9,0.9,0.92,0.88,0.8,
  0.65,0.6,0.58,0.6,0.6,0.62,0.68,0.75, 0.75,0.7,0.62,0.57,0.55,0.6,
  0.55,0.48,0.44,0.42,0.42,0.43,0.45,0.5,0.58,0.68, 0.85,0.85,0.85,0.8,
  0.6,0.5,0.42,0.38,0.38,0.4,0.45,0.5,0.6, 0.9,0.9,0.92,0.88,
  0.65,0.55,0.48,0.44,0.42,0.42,0.45,0.55, 0.95,0.9,0.88,0.92,0.9,
  0.55,0.5,0.45,0.44,0.46,0.47,0.5,0.55,0.65, 0.8,0.78,0.78,0.8,
  0.65,0.6,0.57,0.57,0.58,0.6,0.6,0.55,0.48,0.47, 0.82,0.8,0.85,
  0.6,0.55,0.5,0.48,0.47,0.47,0.48,0.52,0.6, 0.6,0.58,0.57,0.57,0.58,0.6,0.62,
  0.6,0.56,0.54,0.53,0.54,0.55,0.57,0.6,0.62,0.6,0.55, 0.5,0.47,0.5,
  0.55,0.52,0.5,0.5,0.5,0.52,0.55,0.6,0.65, 0.6,0.55,0.5,0.48,0.48,0.5,0.55,
  0.55,0.5,0.48,0.47,0.47,0.48,0.5,0.52,0.5,0.48,0.47,0.47,0.5,
  0.35,0.3,0.4,0.42,0.4,0.38,0.36,0.36,0.38,0.4,0.42, 0.4,0.35,0.32,0.3,0.28,0.27,0.3,0.38,
  0.55,0.57,0.58,0.57,0.55, 0.5,0.45,0.4,0.37,0.35,0.34,0.33,0.34,0.36,0.4,0.45,0.5,0.55,
  0.7,0.68,0.68,0.68,0.7,0.7,0.65, 0.55,0.5,0.45,0.4,0.35,
  0.25,0.2,0.15,0.1,0.06,0.05,0.08,0.15,0.25, 0.4,0.4,0.37,0.36,0.37,0.38,0.4,0.45,0.5,
  0.72,0.7,0.68,0.68,0.7,0.7, 0.5,0.42,0.35,0.3,0.3,0.32,0.35,0.38,0.42,0.48,0.55,0.62,
  0.88,0.87,0.87,0.88,0.85, 0.6,0.5,0.42,0.35,0.3,0.27,0.26,0.27,0.3,0.35,0.4,0.5]

const res = [[0,0.09],[1,0.3],[2.2,0.47],[3.4,0.23],[4.3,0.12],[5.2,-0.01],[6.4,-0.08],[7.3,0.05],[8.2,0.16],[9,0.1],[10,0.02],[11,0.05],[11.8,-0.01],[12.7,0.03],[13.6,0.02],[14.3,-0.05],[15.1,-0.17],[16.6,0.12],[17.5,0.05],[18.4,0.06],[19.3,0.1],[20.2,0.09],[21,0.16],[22,0.19],[23,0.2],[23.8,0.18],[25,0.2],[26.2,0.16],[27,0.15],[28,0.12],[29,0.06],[29.8,0.0],[31,0.09],[32,0.2],[32.8,0.31],[33.7,0.28],[34.6,0.3],[35.8,0.27],[37,0.33],[38.2,0.26],[39.4,0.23],[40.6,0.28],[41.8,0.3],[43,0.27],[44.2,0.33],[45.4,0.25],[46.6,0.12],[47.8,0.05],[49,-0.08],[49.9,-0.03],[50.8,-0.05],[51.7,-0.1],[52.6,-0.19],[53.8,-0.01],[55,0.15],[56.3,0.26],[57.5,0.3],[58.7,0.37],[59.9,0.25],[61,0.12],[62.3,0.2],[63.5,0.26],[65,0.3],[66.5,0.44],[67.4,0.25],[68.3,0.12],[69.5,0.2],[70.7,0.3],[71.9,0.24],[73,0.19],[74.3,0.17],[75.5,0.16],[76.4,0.08],[77.3,0.02],[78.2,0.15],[79.1,0.26],[80.3,0.22],[81.5,0.19],[82.7,0.12],[83.9,0.06],[85.1,0.2],[86.3,0.3],[87.5,0.28],[88.7,0.26],[89.6,0.35],[90.5,0.44],[91.1,0.06],[92.3,0.22],[93.5,0.3],[94.4,0.36],[95.3,0.44],[96.2,0.41],[97.1,0.4],[98.3,0.3],[99.5,0.23],[100.4,0.12],[101.3,0.06],[102.2,0.15],[103.1,0.26],[104.3,0.22],[105.5,0.19],[106.7,0.26],[107.9,0.33],[108.8,0.15],[109.7,0.02],[110.6,0.1],[111.5,0.19],[112.4,0.28],[113.3,0.33],[114.2,0.15],[115.1,-0.05],[116,0.05],[116.9,0.16],[117.8,0.26],[118.7,0.33],[119.9,0.4],[121.1,0.16],[122.3,0.14],[123.5,0.12],[124.7,0.15],[125.9,0.12],[127.1,0.16],[128.4,0.16],[129.3,0.2],[130.2,0.19],[131.4,0.15],[132.6,0.06],[133.8,0.0],[135,-0.05],[136,-0.12],[136.8,-0.19],[137.7,-0.1],[138.6,-0.05],[139.5,0.05],[140.4,0.12],[141.3,0.3],[142.2,0.44],[143.1,0.3],[144,0.19],[145.2,0.1],[146.4,0.02],[147.6,0.15],[148.8,0.26],[150,0.15],[151.2,0.09],[152.4,0.05],[153.6,0.02],[154.8,0.0],[156,-0.01],[157.2,0.0],[158.4,0.02],[159.3,0.3],[160.2,0.76],[161.1,0.35],[162,0.12],[163.2,0.0],[164.4,-0.08],[165.6,0.05],[166.8,0.19],[167.7,0.12],[168.6,0.02],[169.8,-0.05],[171,-0.17],[172.2,0.0],[173.4,0.16],[174.6,0.35],[175.8,0.57],[176.7,0.35],[177.6,0.19],[178.3,0.4],[179,0.54],[179.8,0.2],[180.6,-0.01],[181.8,0.05],[183,0.12],[184.2,0.08],[185.3,0.16],[186.5,0.05],[187.7,-0.15],[188.9,0.0],[190.1,0.12],[191,0.25],[191.9,0.37],[192.8,0.2],[193.7,0.09],[194.9,0.2],[196.1,0.26],[197,0.35],[197.9,0.44],[198.6,0.3],[199.3,0.64],[200.1,0.2],[200.9,-0.08],[202.1,-0.12],[203.3,0.1],[204.5,0.3],[205.4,0.25],[206.3,0.19],[207.5,0.25],[208.7,0.3],[209.9,0.4],[211.1,0.54],[212,0.3],[213,0.06],[214.1,0.0],[215.3,-0.05],[216.5,-0.06],[217.7,-0.08],[218.9,-0.03],[220.1,-0.05],[221.3,0.05],[222.5,0.09],[223.7,0.05],[224.9,0.06],[226.1,0.1],[227.3,0.09],[228.8,0.12],[230.3,0.14],[231.5,0.0],[232.7,-0.19],[234,0.0],[235.7,0.16],[237,0.2],[238,0.19],[239.3,0.26],[240.5,0.28],[241.7,0.2],[242.8,0.09],[244.3,0.06],[245.8,0.02],[247.3,-0.05],[248.8,-0.12],[250,-0.05],[251.2,0.02],[252.4,0.1],[253.6,0.16],[254.5,0.3],[255.4,0.37],[256.6,0.25],[257.8,0.23],[259.3,0.3],[260.8,0.37],[261.7,0.2],[262.6,0.12],[263.2,0.3],[263.8,0.52],[264.4,0.1],[265,-0.12],[266.2,0.2],[267.4,0.4],[268.6,0.2],[269.8,0.12],[271.3,0.25],[272.8,0.37],[274,0.2],[275.2,0.12],[276.4,0.0],[277.6,-0.08],[278.8,-0.2],[280,-0.29],[281.2,-0.15],[282.4,-0.05],[283.6,0.02],[284.8,0.09],[286,0.04],[287.2,0.02],[288.1,0.15],[289,0.23],[290.2,0.16],[291.4,0.16],[292.6,0.2],[293.8,0.26],[295,0.35],[296.2,0.44],[297.4,0.51],[298.3,0.3],[299.2,0.19],[300.4,0.25],[301.6,0.26],[302.8,0.15],[304,0.06],[305.2,0.18],[306.4,0.26],[307.6,0.24],[308.8,0.26],[310,0.0],[311.2,-0.1],[312.4,0.0],[313.6,0.09],[314.5,0.16],[315.4,0.18],[316.3,0.12],[317.2,0.06],[318.1,-0.08],[319,-0.19],[319.9,-0.05],[320.8,0.0],[322,0.12],[323.2,0.19],[324.1,0.26],[325,0.33],[325.9,0.41],[326.8,0.48],[328,0.4],[329.2,0.33],[330.4,0.2],[331.6,0.12],[333.1,0.0],[334.6,-0.12],[335.8,0.1],[337,0.33],[338.2,0.25],[339.4,0.19],[340.6,0.22],[341.8,0.16],[343,0.2],[344.2,0.23],[345.4,0.1],[346.6,0.02],[347.8,0.12],[349,0.19],[350.2,0.15],[351.4,0.12],[352.9,0.09],[354.4,0.06],[355.6,0.04],[356.8,0.02],[358,-0.05],[359.2,-0.12],[360.1,-0.1],[361,-0.05],[361.9,0.05],[362.8,0.12],[363.9,0.25],[365,0.33]]

const FONT = "'Liberation Sans', Arial, sans-serif"
const BLUE = '#0000ff'
const BLACK = '#000000'
const DAY = 86400000
const t0 = new Date(2008, 0, 1).getTime()
const tEnd = new Date(2008, 11, 31).getTime()
const tickTimes = tickDates.map(s => {
  const [y, m, d] = s.split('-').map(Number)
  return new Date(y, m - 1, d).getTime()
})

function toTime(pairs) {
  return pairs.map(p => [t0 + p[0] * DAY, p[1]])
}

// tide: one high and one low per day
let obs = []
obsHigh.forEach((h, i) => {
  obs.push([t0 + (i + 0.25) * DAY, h])
  if (obsLow[i] !== undefined) obs.push([t0 + (i + 0.75) * DAY, obsLow[i]])
})

const panels = [
  { top: 54, height: 242, min: 0, max: 20, interval: 5,
    series: [['Total Hs', toTime(totalHs), BLUE, 1.5], ['Total Tm', toTime(totalTm), BLACK, 1.7]],
    legendTop: 122, legendPad: [10, 12, 10, 18] },
  { top: 323, height: 241, min: 0, max: 20, interval: 5,
    series: [['Swell Hs', toTime(swellHs), BLUE, 1.5], ['Swell Tm', toTime(swellTm), BLACK, 1.7]],
    legendTop: 406, legendPad: [10, 8, 10, 18] },
  { top: 593, height: 240, min: 0, max: 20, interval: 5,
    series: [['Sea Hs', toTime(seaHs), BLUE, 1.5], ['Sea Tm', toTime(seaTm), BLACK, 1.7]],
    legendTop: 674, legendPad: [10, 9, 10, 18] },
  { top: 861, height: 241, min: -0.5, max: 2, interval: 0.5,
    series: [['Obs', obs, BLUE, 1.1], ['Res', toTime(res), BLACK, 2]],
    legendTop: 962, legendPad: [10, 22, 10, 18] }
]

const grid = [], xAxis = [], yAxis = [], series = [], legend = []
panels.forEach((p, i) => {
  const last = i === panels.length - 1
  grid.push({ left: 100, right: 188, top: p.top, height: p.height, show: true,
    borderColor: '#222', borderWidth: 1.5, backgroundColor: '#fff' })
  // bottom and top x axes (ticks inside, like a boxed plot)
  xAxis.push({
    type: 'value', gridIndex: i, min: t0, max: tEnd, position: 'bottom',
    axisLine: { show: false }, splitLine: { show: false },
    axisTick: { show: true, inside: true, length: 12, customValues: tickTimes, lineStyle: { color: '#222', width: 1.2 } },
    axisLabel: {
      show: last, customValues: tickTimes, margin: 10, fontSize: 18, fontFamily: FONT, color: '#111',
      formatter: v => { const k = tickTimes.indexOf(v); return k >= 0 ? tickLabels[k] : '' }
    }
  })
  xAxis.push({
    type: 'value', gridIndex: i, min: t0, max: tEnd, position: 'top',
    axisLine: { show: false }, splitLine: { show: false }, axisLabel: { show: false },
    axisTick: { show: true, inside: true, length: 12, customValues: tickTimes, lineStyle: { color: '#222', width: 1.2 } }
  })
  yAxis.push({
    type: 'value', gridIndex: i, min: p.min, max: p.max, interval: p.interval, position: 'left',
    axisLine: { show: false },
    axisTick: { show: true, inside: true, length: 12, lineStyle: { color: '#222', width: 1.2 } },
    splitLine: { show: true, lineStyle: { color: '#d4d4d4', width: 1 } },
    axisLabel: { margin: 10, fontSize: 17, fontFamily: FONT, color: '#111' }
  })
  yAxis.push({
    type: 'value', gridIndex: i, min: p.min, max: p.max, interval: p.interval, position: 'right',
    axisLine: { show: false }, splitLine: { show: false }, axisLabel: { show: false },
    axisTick: { show: true, inside: true, length: 12, lineStyle: { color: '#222', width: 1.2 } }
  })
  // vertical grid lines at the month ticks
  series.push({
    type: 'line', xAxisIndex: 2 * i, yAxisIndex: 2 * i, data: [], z: 1, silent: true,
    markLine: {
      silent: true, symbol: ['none', 'none'], animation: false, label: { show: false },
      lineStyle: { color: '#d4d4d4', width: 1, type: 'solid' },
      data: tickTimes.map(t => ({ xAxis: t }))
    }
  })
  p.series.forEach(s => {
    series.push({
      name: s[0], type: 'line', xAxisIndex: 2 * i, yAxisIndex: 2 * i, data: s[1],
      symbol: 'none', showSymbol: false, connectNulls: false, z: 3,
      lineStyle: { color: s[2], width: s[3] }, itemStyle: { color: s[2] }
    })
  })
  legend.push({
    data: p.series.map(s => s[0]), orient: 'vertical', right: 6, top: p.legendTop,
    itemWidth: 90, itemHeight: 12, itemGap: 11, padding: p.legendPad,
    borderColor: '#222', borderWidth: 1, backgroundColor: '#fff', selectedMode: false,
    itemStyle: { opacity: 0 },
    lineStyle: { width: 2 },
    textStyle: { fontSize: 15, fontFamily: FONT, color: '#111', padding: [0, 0, 0, 8] }
  })
})

let myChart = echarts.init(document.getElementById('myChart'))
let option = {
  animation: false,
  backgroundColor: '#fff',
  grid: grid,
  xAxis: xAxis,
  yAxis: yAxis,
  legend: legend,
  series: series,
  graphic: [
    { type: 'text', left: 71, top: 3,
      style: { text: 'Sea, swell and total wave height and mean period for Rottnest, 2008. 99.16% Data Recov',
        fontSize: 37, fontFamily: FONT, fill: '#000' } },
    { type: 'text', x: 38, y: 447, rotation: Math.PI / 2,
      style: { text: 'Height (m) ; Period (s)', fontSize: 30, fontFamily: FONT, fill: '#000',
        align: 'center', verticalAlign: 'middle', textAlign: 'center', textVerticalAlign: 'middle' } },
    { type: 'text', x: 29, y: 981, rotation: Math.PI / 2,
      style: { text: 'Water Level (m)', fontSize: 31, fontFamily: FONT, fill: '#000',
        align: 'center', verticalAlign: 'middle', textAlign: 'center', textVerticalAlign: 'middle' } },
    { type: 'text', x: 819, y: 1157,
      style: { text: 'Time', fontSize: 31, fontFamily: FONT, fill: '#000',
        align: 'center', verticalAlign: 'middle', textAlign: 'center', textVerticalAlign: 'middle' } }
  ]
}
myChart.setOption(option)
</script>
</body>
</html>
